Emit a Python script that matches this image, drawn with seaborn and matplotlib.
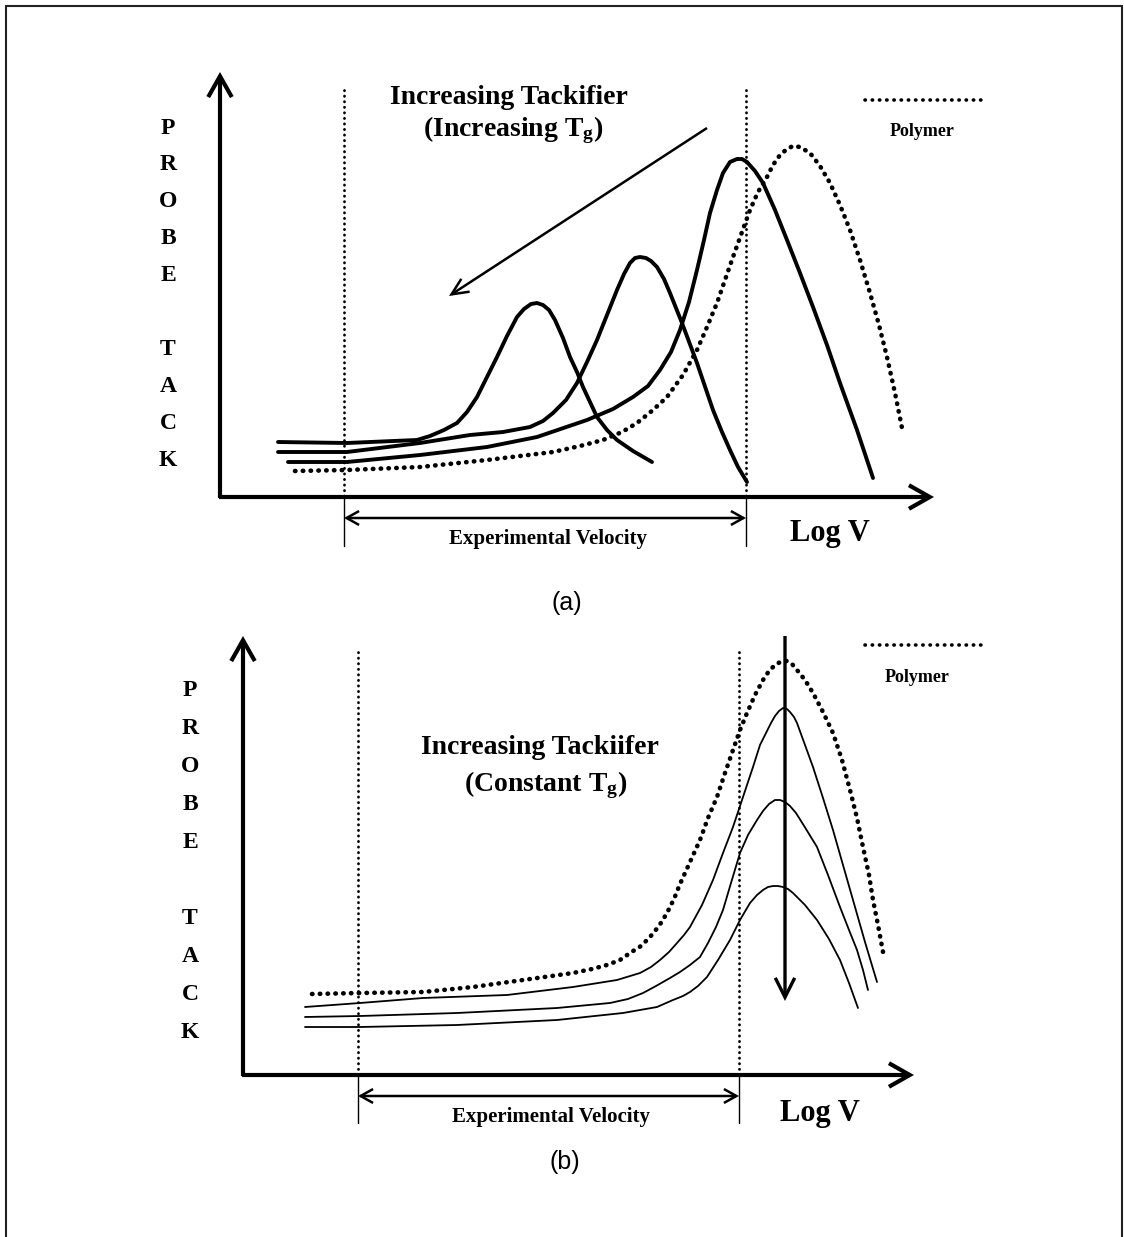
import matplotlib
matplotlib.use("Agg")
import matplotlib.pyplot as plt
import seaborn as sns

# ---------------- data (figure-pixel units) ----------------
# Panel (a): increasing tackifier (increasing Tg)
a_peak1_x = [278, 347, 417, 430, 444, 457, 467, 477, 487, 497, 507, 517, 524, 531, 537, 543, 549, 555, 563, 570, 577, 583, 590, 597, 607, 617, 633, 652]
a_peak1_y = [442, 443, 440, 436, 430, 423, 412, 397, 377, 357, 336, 317, 309, 304, 303, 305, 310, 320, 338, 357, 372, 387, 402, 417, 430, 440, 451, 462]
a_peak2_x = [278, 347, 420, 470, 503, 530, 543, 553, 566, 577, 587, 597, 607, 617, 624, 630, 635, 640, 646, 651, 657, 664, 670, 682, 697, 713, 722, 730, 738, 747]
a_peak2_y = [452, 452, 443, 435, 432, 427, 421, 413, 400, 383, 362, 340, 315, 290, 274, 263, 258, 257, 258, 261, 267, 279, 293, 323, 363, 410, 432, 450, 467, 482]
a_peak3_x = [288, 347, 420, 487, 537, 587, 613, 633, 648, 660, 671, 680, 689, 697, 704, 710, 717, 723, 730, 737, 742, 747, 755, 763, 775, 787, 800, 813, 827, 840, 857, 873]
a_peak3_y = [462, 462, 455, 447, 437, 420, 409, 397, 386, 370, 352, 330, 302, 270, 240, 213, 190, 173, 162, 159, 159, 162, 171, 183, 210, 240, 273, 307, 345, 383, 430, 478]
a_poly_x = [295, 347, 420, 487, 553, 580, 603, 622, 637, 653, 667, 683, 697, 707, 717, 725, 733, 742, 750, 758, 767, 773, 780, 787, 793, 800, 810, 820, 830, 840, 850, 860, 870, 879, 887, 895, 902]
a_poly_y = [471, 470, 467, 460, 452, 446, 440, 432, 423, 410, 397, 375, 350, 327, 303, 280, 257, 232, 210, 192, 177, 165, 155, 149, 146, 147, 153, 166, 183, 205, 230, 260, 293, 325, 357, 393, 428]

# Panel (b): increasing tackifier (constant Tg)
b_poly_x = [312, 360, 423, 473, 523, 573, 592, 607, 620, 630, 641, 650, 659, 667, 674, 680, 690, 700, 708, 717, 725, 733, 740, 747, 755, 763, 769, 775, 782, 787, 792, 797, 805, 813, 823, 833, 842, 850, 857, 863, 869, 873, 878, 883]
b_poly_y = [994, 993, 992, 987, 980, 973, 969, 965, 960, 953, 946, 937, 926, 913, 899, 884, 862, 840, 818, 797, 773, 750, 730, 713, 695, 680, 671, 665, 661, 661, 664, 670, 680, 693, 712, 733, 760, 790, 818, 847, 875, 900, 925, 952]
b_c1_x = [305, 360, 423, 507, 573, 617, 640, 651, 660, 669, 677, 684, 690, 702, 713, 723, 733, 743, 753, 760, 766, 771, 775, 779, 783, 787, 790, 794, 797, 805, 813, 823, 833, 843, 853, 865, 877]
b_c1_y = [1007, 1003, 998, 995, 987, 980, 973, 967, 960, 952, 943, 935, 927, 905, 880, 853, 827, 797, 767, 745, 733, 723, 716, 711, 708, 709, 712, 717, 723, 745, 767, 798, 830, 865, 900, 942, 982]
b_c2_x = [305, 360, 457, 557, 610, 628, 643, 656, 670, 680, 690, 700, 708, 716, 723, 731, 740, 748, 757, 763, 769, 775, 780, 785, 790, 796, 806, 817, 828, 840, 849, 857, 863, 868]
b_c2_y = [1017, 1016, 1013, 1008, 1003, 999, 993, 986, 978, 972, 965, 957, 943, 927, 910, 883, 853, 835, 820, 811, 804, 800, 800, 802, 806, 813, 829, 847, 875, 907, 930, 950, 970, 990]
b_c3_x = [305, 360, 457, 557, 623, 640, 657, 673, 683, 690, 698, 707, 718, 730, 740, 750, 757, 763, 768, 773, 778, 783, 788, 793, 805, 817, 829, 840, 849, 858]
b_c3_y = [1027, 1027, 1025, 1020, 1013, 1010, 1007, 1000, 996, 992, 986, 977, 960, 940, 920, 903, 895, 890, 887, 886, 886, 887, 889, 893, 905, 920, 939, 960, 983, 1008]

ylabel_letters = ["P", "R", "O", "B", "E", "T", "A", "C", "K"]
ylabel_slots = [0, 1, 2, 3, 4, 6, 7, 8, 9]

panel_a_texts = {
    "title1": "Increasing Tackifier",
    "title2": r"(Increasing T$_{\mathrm{g}}$)",
    "legend": "Polymer",
    "range": "Experimental Velocity",
    "xlabel": "Log V",
    "tag": "(a)",
}
panel_b_texts = {
    "title1": "Increasing Tackiifer",
    "title2": r"(Constant T$_{\mathrm{g}}$)",
    "legend": "Polymer",
    "range": "Experimental Velocity",
    "xlabel": "Log V",
    "tag": "(b)",
}

# ---------------- style ----------------
sns.set_style("white")
plt.rcParams["font.family"] = ["Liberation Serif", "DejaVu Serif"]
plt.rcParams["mathtext.fontset"] = "custom"
plt.rcParams["mathtext.rm"] = "Liberation Serif:bold"
plt.rcParams["mathtext.bf"] = "Liberation Serif:bold"
plt.rcParams["mathtext.it"] = "Liberation Serif:bold"

W, H = 1124, 1237
fig = plt.figure(figsize=(W / 100, H / 100), dpi=100)
ax = fig.add_axes([0, 0, 1, 1])
ax.set_xlim(0, W)
ax.set_ylim(H, 0)
ax.axis("off")

DOT_BIG = dict(linestyle=(0, (0.1, 1.6)), dash_capstyle="round")
DOT_SMALL = dict(linestyle=(0, (0.1, 1.9)), dash_capstyle="round")


def curve(x, y, lw, dotted=False):
    kw = DOT_BIG if dotted else dict(solid_capstyle="round", solid_joinstyle="round")
    sns.lineplot(x=x, y=y, sort=False, estimator=None, ax=ax, color="black",
                 linewidth=lw, **kw)


def arrow(x0, y0, x1, y1, lw, hl, hw, style="->"):
    ax.annotate("", xy=(x1, y1), xytext=(x0, y0),
                arrowprops=dict(arrowstyle=f"{style},head_length={hl},head_width={hw}",
                                lw=lw, color="black", shrinkA=0, shrinkB=0,
                                joinstyle="miter", capstyle="butt"))


def panel(ox, ytop, xaxis_y, xtip, vlines, vtop, vbot, arrow_y, texts, tpos, letters_x, letters_y0, step):
    # axes
    arrow(ox, xaxis_y + 1, ox, ytop, 3.0, 1.5, 0.85)
    arrow(ox - 1, xaxis_y, xtip, xaxis_y, 3.0, 1.5, 0.85)
    # experimental window
    for vx in vlines:
        ax.plot([vx, vx], [vtop, xaxis_y], color="black", lw=2.0, **DOT_SMALL)
        ax.plot([vx, vx], [xaxis_y, vbot], color="black", lw=1.0)
    arrow(vlines[0], arrow_y, vlines[1], arrow_y, 1.8, 0.9, 0.5, style="<->")
    # legend dotted sample
    ax.plot([865, 985], [tpos["leg_y"], tpos["leg_y"]], color="black", lw=2.6, **DOT_SMALL)
    bold = dict(fontweight="bold", ha="center", va="center", color="black")
    ax.text(*tpos["title1"], texts["title1"], fontsize=20, **bold)
    ax.text(*tpos["title2"], texts["title2"], fontsize=20, **bold)
    ax.text(*tpos["legend"], texts["legend"], fontsize=13, **bold)
    ax.text(*tpos["range"], texts["range"], fontsize=15, **bold)
    ax.text(*tpos["xlabel"], texts["xlabel"], fontsize=22, **bold)
    ax.text(*tpos["tag"], texts["tag"], fontsize=18, ha="center", va="center",
            family=["Liberation Sans", "DejaVu Sans"], color="black")
    for L, s in zip(ylabel_letters, ylabel_slots):
        ax.text(letters_x, letters_y0 + s * step, L, fontsize=17, **bold)


panel(220, 72, 497, 934, [344, 746], 90, 546, 518, panel_a_texts,
      dict(title1=(509, 97), title2=(513, 130), legend=(922, 131), leg_y=100,
           range=(548, 539), xlabel=(830, 533), tag=(567, 603)),
      168, 128, 36.9)
panel(243, 636, 1075, 914, [358, 739], 652, 1123, 1096, panel_b_texts,
      dict(title1=(540, 747), title2=(546, 785), legend=(917, 677), leg_y=645,
           range=(551, 1117), xlabel=(820, 1113), tag=(565, 1162)),
      190, 691, 37.9)

# curves panel (a)
curve(a_poly_x, a_poly_y, 3.3, dotted=True)
curve(a_peak1_x, a_peak1_y, 2.8)
curve(a_peak2_x, a_peak2_y, 2.8)
curve(a_peak3_x, a_peak3_y, 2.8)
arrow(707, 128, 449, 296, 1.8, 1.2, 0.55)

# curves panel (b)
curve(b_poly_x, b_poly_y, 3.3, dotted=True)
curve(b_c1_x, b_c1_y, 1.3)
curve(b_c2_x, b_c2_y, 1.3)
curve(b_c3_x, b_c3_y, 1.3)
arrow(785, 636, 785, 1001, 2.4, 1.4, 0.7)

# page frame
ax.plot([6, 6], [H, 6], color="#222222", lw=1.5)
ax.plot([6, W - 2], [6, 6], color="#222222", lw=1.5)
ax.plot([W - 2, W - 2], [6, H], color="#222222", lw=1.5)

fig.savefig("out.png", dpi=100, facecolor="white")
